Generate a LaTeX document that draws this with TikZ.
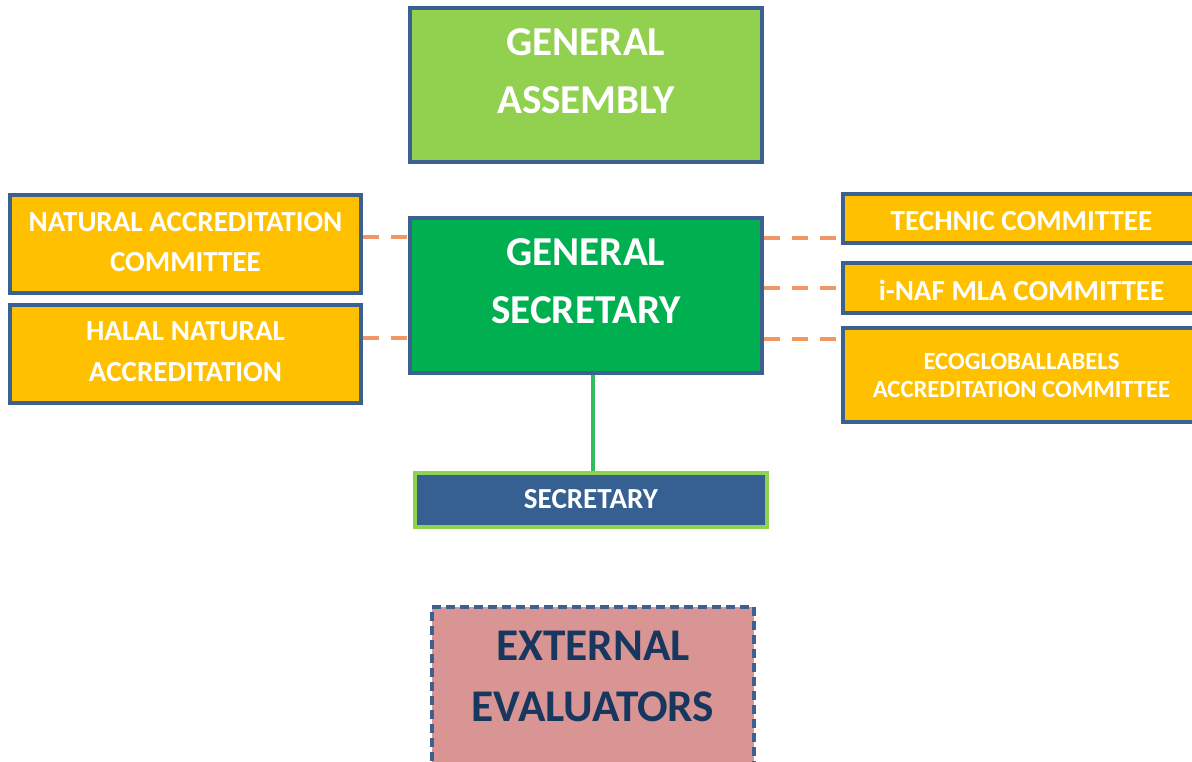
\documentclass[tikz,border=0pt]{standalone}
\usepackage{fontspec}
\setmainfont{Carlito}
\usetikzlibrary{calc}
\definecolor{frame}{RGB}{60,97,144}
\definecolor{lightgreen}{RGB}{146,208,80}
\definecolor{darkgreen}{RGB}{0,176,80}
\definecolor{gold}{RGB}{255,192,0}
\definecolor{navyfill}{RGB}{55,96,146}
\definecolor{rosefill}{RGB}{217,149,148}
\definecolor{navytext}{RGB}{23,55,94}
\definecolor{dashorange}{RGB}{241,152,98}
\definecolor{linkgreen}{RGB}{46,189,90}
\tikzset{
  box/.style={draw=frame, line width=2.4pt, rectangle, inner sep=0pt},
  assemblybox/.style={box, fill=lightgreen},
  secgenbox/.style={box, fill=darkgreen},
  committeebox/.style={box, fill=gold},
  secretarybox/.style={rectangle, draw=lightgreen, line width=2.4pt, fill=navyfill, inner sep=0pt},
  evalbox/.style={rectangle, draw=frame, line width=2.5pt, dash pattern=on 6.5pt off 4pt, fill=rosefill, inner sep=0pt},
  bigtext/.style={text=white, font=\bfseries\fontsize{30.8}{43.5}\selectfont, align=center, inner sep=0pt},
  midtext/.style={text=white, font=\bfseries\fontsize{21.8}{30.5}\selectfont, align=center, inner sep=0pt},
  smalltext/.style={text=white, font=\bfseries\fontsize{18.5}{21}\selectfont, align=center, inner sep=0pt},
  dashlink/.style={draw=dashorange, line width=3pt, dash pattern=on 12pt off 9pt},
  solidlink/.style={draw=linkgreen, line width=2.8pt}
}
\begin{document}
\begin{tikzpicture}[x=0.75pt, y=-0.75pt]
\useasboundingbox (0,0) rectangle (1192,762);
\clip (0,0) rectangle (1192,762);

% top level boxes
\node[assemblybox, minimum width=264pt, minimum height=115.5pt] (ga) at (586,85) {};
\node[bigtext] (gatxt) at ($(ga.center)+(0,-13.5)$) {GENERAL\\ASSEMBLY};

\node[secgenbox, minimum width=264pt, minimum height=116.25pt] (gs) at (586,295.5) {};
\node[bigtext] (gstxt) at ($(gs.center)+(0,-14.5)$) {GENERAL\\SECRETARY};

% committees on the left
\node[committeebox, minimum width=263.25pt, minimum height=73.5pt] (nac) at (185.5,244) {};
\node[midtext] (nactxt) at ($(nac.center)+(0,-2)$) {NATURAL ACCREDITATION\\COMMITTEE};

\node[committeebox, minimum width=263.25pt, minimum height=73.5pt] (hna) at (185.5,354) {};
\node[midtext] (hnatxt) at ($(hna.center)+(0,-2.5)$) {HALAL NATURAL\\ACCREDITATION};

% committees on the right
\node[committeebox, minimum width=267.75pt, minimum height=36.75pt] (tc) at (1021.5,218.5) {};
\node[midtext] (tctxt) at ($(tc.center)+(0,2.5)$) {TECHNIC COMMITTEE};

\node[committeebox, minimum width=267.75pt, minimum height=37.5pt] (mla) at (1021.5,288) {};
\node[midtext] (mlatxt) at ($(mla.center)+(0,2)$) {i-NAF MLA COMMITTEE};

\node[committeebox, minimum width=267.75pt, minimum height=70.5pt] (eco) at (1021.5,375) {};
\node[smalltext] (ecotxt) at (eco.center) {ECOGLOBALLABELS\\ACCREDITATION COMMITTEE};

% secretary and external evaluators
\node[secretarybox, minimum width=264pt, minimum height=40.5pt] (sec) at (591,500) {};
\node[midtext] (sectxt) at ($(sec.center)+(0,-1)$) {SECRETARY};

\node[evalbox, minimum width=241.5pt, minimum height=122.25pt] (ext) at (593,688.5) {};
\node[bigtext, text=navytext, font=\bfseries\fontsize{34}{46}\selectfont] (exttxt) at ($(ext.center)+(0,-12)$) {EXTERNAL\\EVALUATORS};

% dashed links to the committees
\draw[dashlink] (nac.east |- 0,237) -- (gs.west |- 0,237);
\draw[dashlink] (hna.east |- 0,338) -- (gs.west |- 0,338);
\draw[dashlink] (gs.east |- 0,238) -- (tc.west |- 0,238);
\draw[dashlink] (gs.east |- 0,288) -- (mla.west |- 0,288);
\draw[dashlink] (gs.east |- 0,339) -- (eco.west |- 0,339);

% solid link down to the secretary
\draw[solidlink] (gs.south -| 593,0) -- (sec.north -| 593,0);
\end{tikzpicture}
\end{document}
